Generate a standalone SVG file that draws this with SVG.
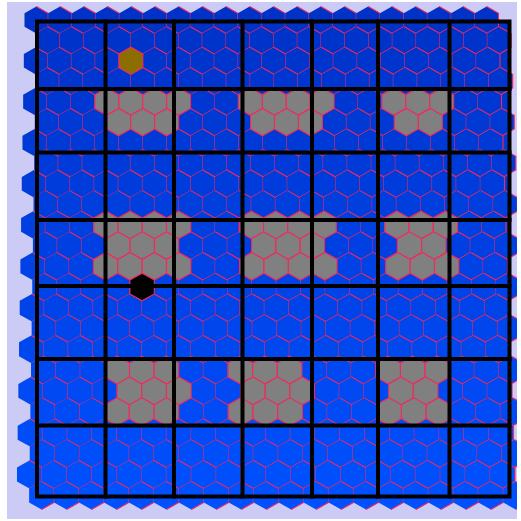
<svg xmlns="http://www.w3.org/2000/svg" xmlns:xlink="http://www.w3.org/1999/xlink" width="521" height="521" viewBox="0 0 521 521">
<style>
.e{fill:none;stroke:#f02a5c;stroke-width:1.1;vector-effect:non-scaling-stroke}
.o{stroke:#f02a5c;stroke-width:1.1;vector-effect:non-scaling-stroke}
.gr{fill:#808080}
.ol{fill:#8c6e00}
.bk{fill:#000000}
#grid path{fill:none;stroke:#000;stroke-width:4;stroke-linecap:square}
</style>
<defs>
<clipPath id="cp"><rect x="7" y="2" width="510" height="517"/></clipPath>
<linearGradient id="bg" x1="0" y1="0" x2="0" y2="1"><stop offset="0" stop-color="#0032c8"/><stop offset="1" stop-color="#0050ff"/></linearGradient>
<g id="h"><polygon points="0,-13.7 11.85,-6.85 11.85,6.85 0,13.7 -11.85,6.85 -11.85,-6.85"/><polyline class="e" points="0,-13.7 11.85,-6.85 11.85,6.85 0,13.7"/></g>
<polygon id="p" class="o" points="0,-13.7 11.85,-6.85 11.85,6.85 0,13.7 -11.85,6.85 -11.85,-6.85"/>
<g id="r">
<use href="#h" x="-225.15"/><use href="#h" x="-201.45"/><use href="#h" x="-177.75"/><use href="#h" x="-154.05"/><use href="#h" x="-130.35"/><use href="#h" x="-106.65"/><use href="#h" x="-82.95"/><use href="#h" x="-59.25"/><use href="#h" x="-35.55"/><use href="#h" x="-11.85"/><use href="#h" x="11.85"/><use href="#h" x="35.55"/><use href="#h" x="59.25"/><use href="#h" x="82.95"/><use href="#h" x="106.65"/><use href="#h" x="130.35"/><use href="#h" x="154.05"/><use href="#h" x="177.75"/><use href="#h" x="201.45"/><use href="#h" x="225.15"/>
</g>
</defs>
<rect id="background" x="7" y="2" width="510" height="517" fill="#cbcbf5"/>
<g id="hexmap" clip-path="url(#cp)">
<rect x="37" y="21.5" width="472.5" height="475" fill="url(#bg)"/>
<use href="#r" transform="translate(261.5,20) scale(1,0.9909)" fill="#0032c8"/>
<use href="#r" transform="translate(273.58,40.38) scale(1.0023,0.9922)" fill="#0033ca"/>
<use href="#r" transform="translate(261.91,60.78) scale(1.0046,0.9935)" fill="#0035cd"/>
<use href="#r" transform="translate(274.04,81.21) scale(1.0069,0.9949)" fill="#0036cf"/>
<use href="#r" transform="translate(262.32,101.67) scale(1.0092,0.9962)" fill="#0037d2"/>
<use href="#r" transform="translate(274.51,122.15) scale(1.0115,0.9975)" fill="#0039d4"/>
<use href="#r" transform="translate(262.73,142.66) scale(1.0138,0.9988)" fill="#003ad6"/>
<use href="#r" transform="translate(274.97,163.20) scale(1.0161,1.0001)" fill="#003bd9"/>
<use href="#r" transform="translate(263.13,183.76) scale(1.0184,1.0015)" fill="#003cdb"/>
<use href="#r" transform="translate(275.44,204.36) scale(1.0207,1.0028)" fill="#003ede"/>
<use href="#r" transform="translate(263.54,224.98) scale(1.0230,1.0041)" fill="#003fe0"/>
<use href="#r" transform="translate(275.90,245.62) scale(1.0253,1.0054)" fill="#0040e2"/>
<use href="#r" transform="translate(263.95,266.30) scale(1.0277,1.0068)" fill="#0042e5"/>
<use href="#r" transform="translate(276.37,287.00) scale(1.0300,1.0081)" fill="#0043e7"/>
<use href="#r" transform="translate(264.36,307.73) scale(1.0323,1.0094)" fill="#0044e9"/>
<use href="#r" transform="translate(276.83,328.48) scale(1.0346,1.0107)" fill="#0046ec"/>
<use href="#r" transform="translate(264.77,349.27) scale(1.0369,1.0120)" fill="#0047ee"/>
<use href="#r" transform="translate(277.29,370.08) scale(1.0392,1.0134)" fill="#0048f1"/>
<use href="#r" transform="translate(265.18,390.91) scale(1.0415,1.0147)" fill="#0049f3"/>
<use href="#r" transform="translate(277.75,411.78) scale(1.0438,1.0160)" fill="#004bf5"/>
<use href="#r" transform="translate(265.59,432.67) scale(1.0461,1.0173)" fill="#004cf8"/>
<use href="#r" transform="translate(278.21,453.59) scale(1.0484,1.0187)" fill="#004dfa"/>
<use href="#r" transform="translate(266.00,474.53) scale(1.0507,1.0200)" fill="#004ffd"/>
<use href="#r" transform="translate(278.68,495.50) scale(1.0530,1.0213)" fill="#0050ff"/>
</g>
<g id="gray-areas" class="gr">
<g id="A1">
<use href="#p" transform="translate(106.84,101.67) scale(1.0092,0.9962)"/><use href="#p" transform="translate(130.76,101.67) scale(1.0092,0.9962)"/><use href="#p" transform="translate(154.68,101.67) scale(1.0092,0.9962)"/><use href="#p" transform="translate(178.60,101.67) scale(1.0092,0.9962)"/>
<use href="#p" transform="translate(118.70,122.15) scale(1.0115,0.9975)"/><use href="#p" transform="translate(142.67,122.15) scale(1.0115,0.9975)"/><use href="#p" transform="translate(166.64,122.15) scale(1.0115,0.9975)"/>
</g>
<g id="A2">
<use href="#p" transform="translate(250.36,101.67) scale(1.0092,0.9962)"/><use href="#p" transform="translate(274.28,101.67) scale(1.0092,0.9962)"/><use href="#p" transform="translate(298.20,101.67) scale(1.0092,0.9962)"/><use href="#p" transform="translate(322.12,101.67) scale(1.0092,0.9962)"/>
<use href="#p" transform="translate(262.53,122.15) scale(1.0115,0.9975)"/><use href="#p" transform="translate(286.50,122.15) scale(1.0115,0.9975)"/><use href="#p" transform="translate(310.47,122.15) scale(1.0115,0.9975)"/>
</g>
<g id="A3">
<use href="#p" transform="translate(393.88,101.67) scale(1.0092,0.9962)"/><use href="#p" transform="translate(417.80,101.67) scale(1.0092,0.9962)"/><use href="#p" transform="translate(441.72,101.67) scale(1.0092,0.9962)"/>
<use href="#p" transform="translate(406.35,122.15) scale(1.0115,0.9975)"/><use href="#p" transform="translate(430.32,122.15) scale(1.0115,0.9975)"/>
</g>
<g id="B1">
<use href="#p" transform="translate(105.91,224.98) scale(1.0230,1.0041)"/><use href="#p" transform="translate(130.16,224.98) scale(1.0230,1.0041)"/><use href="#p" transform="translate(154.41,224.98) scale(1.0230,1.0041)"/><use href="#p" transform="translate(178.66,224.98) scale(1.0230,1.0041)"/>
<use href="#p" transform="translate(117.95,245.62) scale(1.0253,1.0054)"/><use href="#p" transform="translate(142.25,245.62) scale(1.0253,1.0054)"/><use href="#p" transform="translate(166.55,245.62) scale(1.0253,1.0054)"/>
<use href="#p" transform="translate(105.61,266.30) scale(1.0277,1.0068)"/><use href="#p" transform="translate(129.97,266.30) scale(1.0277,1.0068)"/><use href="#p" transform="translate(154.33,266.30) scale(1.0277,1.0068)"/><use href="#p" transform="translate(178.69,266.30) scale(1.0277,1.0068)"/>
</g>
<g id="B2">
<use href="#p" transform="translate(251.42,224.98) scale(1.0230,1.0041)"/><use href="#p" transform="translate(275.67,224.98) scale(1.0230,1.0041)"/><use href="#p" transform="translate(299.92,224.98) scale(1.0230,1.0041)"/><use href="#p" transform="translate(324.17,224.98) scale(1.0230,1.0041)"/>
<use href="#p" transform="translate(263.75,245.62) scale(1.0253,1.0054)"/><use href="#p" transform="translate(288.05,245.62) scale(1.0253,1.0054)"/><use href="#p" transform="translate(312.35,245.62) scale(1.0253,1.0054)"/>
<use href="#p" transform="translate(251.77,266.30) scale(1.0277,1.0068)"/><use href="#p" transform="translate(276.13,266.30) scale(1.0277,1.0068)"/><use href="#p" transform="translate(300.49,266.30) scale(1.0277,1.0068)"/><use href="#p" transform="translate(324.85,266.30) scale(1.0277,1.0068)"/>
</g>
<g id="B3">
<use href="#p" transform="translate(396.92,224.98) scale(1.0230,1.0041)"/><use href="#p" transform="translate(421.17,224.98) scale(1.0230,1.0041)"/><use href="#p" transform="translate(445.42,224.98) scale(1.0230,1.0041)"/>
<use href="#p" transform="translate(409.55,245.62) scale(1.0253,1.0054)"/><use href="#p" transform="translate(433.85,245.62) scale(1.0253,1.0054)"/>
<use href="#p" transform="translate(397.93,266.30) scale(1.0277,1.0068)"/><use href="#p" transform="translate(422.29,266.30) scale(1.0277,1.0068)"/><use href="#p" transform="translate(446.65,266.30) scale(1.0277,1.0068)"/>
</g>
<g id="C1">
<use href="#p" transform="translate(117.19,370.08) scale(1.0392,1.0134)"/><use href="#p" transform="translate(141.82,370.08) scale(1.0392,1.0134)"/><use href="#p" transform="translate(166.45,370.08) scale(1.0392,1.0134)"/>
<use href="#p" transform="translate(129.44,390.91) scale(1.0415,1.0147)"/><use href="#p" transform="translate(154.12,390.91) scale(1.0415,1.0147)"/><use href="#p" transform="translate(178.80,390.91) scale(1.0415,1.0147)"/>
<use href="#p" transform="translate(116.94,411.78) scale(1.0438,1.0160)"/><use href="#p" transform="translate(141.68,411.78) scale(1.0438,1.0160)"/><use href="#p" transform="translate(166.42,411.78) scale(1.0438,1.0160)"/>
</g>
<g id="C2">
<use href="#p" transform="translate(240.35,370.08) scale(1.0392,1.0134)"/><use href="#p" transform="translate(264.98,370.08) scale(1.0392,1.0134)"/><use href="#p" transform="translate(289.61,370.08) scale(1.0392,1.0134)"/>
<use href="#p" transform="translate(252.84,390.91) scale(1.0415,1.0147)"/><use href="#p" transform="translate(277.52,390.91) scale(1.0415,1.0147)"/><use href="#p" transform="translate(302.20,390.91) scale(1.0415,1.0147)"/>
<use href="#p" transform="translate(240.64,411.78) scale(1.0438,1.0160)"/><use href="#p" transform="translate(265.38,411.78) scale(1.0438,1.0160)"/><use href="#p" transform="translate(290.12,411.78) scale(1.0438,1.0160)"/>
</g>
<g id="C3">
<use href="#p" transform="translate(388.13,370.08) scale(1.0392,1.0134)"/><use href="#p" transform="translate(412.76,370.08) scale(1.0392,1.0134)"/><use href="#p" transform="translate(437.39,370.08) scale(1.0392,1.0134)"/>
<use href="#p" transform="translate(400.92,390.91) scale(1.0415,1.0147)"/><use href="#p" transform="translate(425.60,390.91) scale(1.0415,1.0147)"/>
<use href="#p" transform="translate(389.08,411.78) scale(1.0438,1.0160)"/><use href="#p" transform="translate(413.82,411.78) scale(1.0438,1.0160)"/><use href="#p" transform="translate(438.56,411.78) scale(1.0438,1.0160)"/>
</g>
</g>
<g id="olive-tile" class="ol"><use href="#p" transform="translate(130.95,60.78) scale(1.0046,0.9935)"/></g>
<g id="black-tile" class="bk"><use href="#p" transform="translate(142.11,287.00) scale(1.0300,1.0081)"/></g>
<g id="grid">
<path d="M37,21.5H509.5V496.5H37Z"/>
<path d="M105.5,21.5V496.5M174,21.5V496.5M242.5,21.5V496.5M312,21.5V496.5M378,21.5V496.5M449.5,21.5V496.5"/>
<path d="M37,89H509.5M37,152.5H509.5M37,220H509.5M37,286H509.5M37,359H509.5M37,425.5H509.5"/>
</g>
</svg>
